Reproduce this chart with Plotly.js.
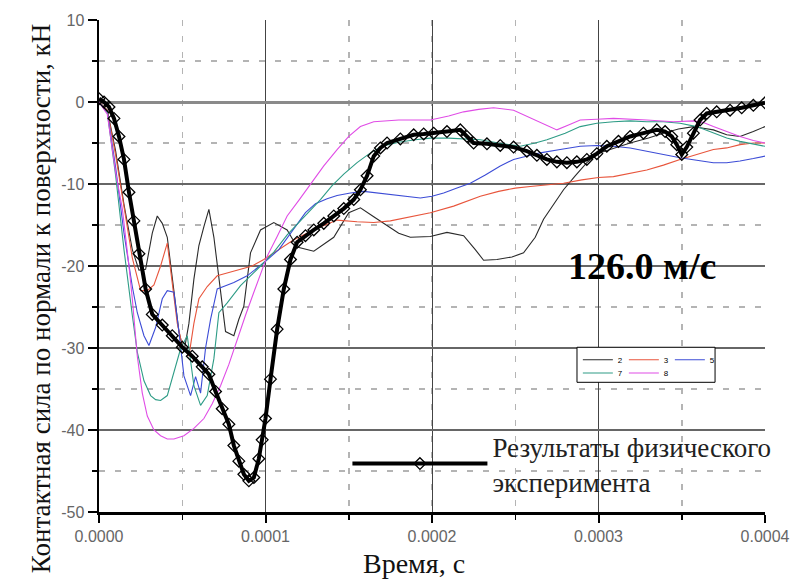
<!DOCTYPE html>
<html>
<head>
<meta charset="utf-8">
<script src="https://cdn.plot.ly/plotly-3.0.1.min.js"></script>
<style>html,body{margin:0;padding:0;background:#fff;}#chart{width:794px;height:579px;}</style>
</head>
<body>
<div id="chart"></div>
<script>
// ---- data (time in microseconds, force in kN) ----
const seriesNames = ['2', '3', '5', '7', '8'];
const seriesColors = ['#2a2a2a', '#e8553c', '#3c4cd6', '#2e9c86', '#e04ce6'];

const time2_us = [0,5,10,15,20,24,28,32,35,38,41,45,48,51,54,57,60,63,66,69,73,76,81,84,87,91,97,105,113,119,129,141,150,157,165,180,187,199,209,219,226,231,239,248,255,262,267,273,279,286,293,301,310,319,330,339,348,357,363,369,377,385,393,400];
const force2 = [0,-1,-6,-12.5,-18,-20.5,-20.4,-16,-13.9,-14.8,-16.5,-22.8,-28,-30.5,-27,-21.6,-17.5,-15.2,-13.1,-16.5,-23.2,-28,-28.5,-26.5,-24.9,-18.4,-15.6,-14.7,-15.6,-17.7,-18.2,-16.5,-13.5,-12.9,-14,-16,-16.5,-16.4,-15.9,-16.3,-18,-19.3,-19.2,-18.9,-18.4,-16.5,-14.3,-12.5,-10.7,-9,-7.4,-6.2,-5.6,-5,-4.4,-3.8,-3.3,-3,-3.2,-3.4,-4,-4.2,-3.6,-3];

const time3_us = [0,5,10,15,20,25,29,33,37,41,44,47,50,54,57,60,65,71,78,85,92,99,108,117,130,143,155,165,175,187,199,213,223,229,240,250,259,270,279,290,300,309,319,329,339,349,359,369,377,385,393,400];
const force3 = [0,-1,-6.5,-13,-19,-23,-23,-22.3,-20,-17.2,-22,-27,-29.7,-31,-27,-24,-22.5,-21.2,-20.8,-20.4,-20,-19.2,-18,-16.8,-15.5,-14.4,-14.6,-14.7,-14.5,-14,-13.5,-12.7,-11.9,-11.5,-10.9,-10.5,-10.3,-10.1,-9.9,-9.5,-9.2,-9.1,-8.7,-8.3,-7.7,-7,-6.4,-5.8,-5.6,-5.2,-5,-5];

const time5_us = [0,5,10,15,20,23,27,30,34,38,41,45,48,51,55,58,61,64,67,71,76,81,89,99,108,117,124,130,137,143,151,159,167,175,185,193,200,207,215,223,232,241,249,257,265,277,289,299,309,319,329,339,349,359,369,377,385,393,400];
const force5 = [0,-1.2,-8,-16,-22.5,-25.7,-28.5,-29.7,-27.5,-24,-23,-23.2,-28,-33.4,-35.8,-33.5,-35.5,-30,-26.5,-22.8,-22.4,-22,-21.2,-19.6,-18,-15.5,-13.5,-12.4,-11.8,-11.4,-11.1,-10.9,-11.1,-11.3,-11.5,-11.7,-11.5,-11.1,-10.5,-9.9,-8.9,-7.8,-7,-6.6,-6.2,-5.8,-5.4,-5.3,-5.4,-5.6,-6,-6.4,-6.8,-7.1,-7.4,-7.4,-7.2,-6.9,-6.6];

const time7_us = [0,5,10,15,20,23,27,31,34,37,41,45,49,53,57,61,65,69,72,77,85,97,105,113,123,133,140,147,155,163,170,180,190,199,210,220,229,240,253,262,269,280,289,299,309,319,329,339,349,359,369,377,385,393,400];
const force7 = [0,-1.3,-9,-18,-26,-30.5,-34,-35.8,-36.3,-36.4,-35.8,-33,-30.1,-28.5,-34.6,-37,-35.8,-31.3,-25.7,-24.5,-22.4,-20,-18.3,-16.2,-14,-11.9,-10.2,-8.8,-7.4,-6.2,-5.4,-4.9,-4.6,-4.4,-4.4,-4.5,-4.6,-5,-5.4,-5,-4.6,-3.8,-3,-2.6,-2.4,-2.3,-2.4,-2.4,-2.6,-3,-3.8,-4.4,-4.8,-5.1,-5.4];

const time8_us = [0,5,10,14,18,20,23,26,29,33,37,41,45,51,57,63,68,73,78,83,88,93,97,101,107,113,120,127,135,143,150,157,165,180,199,210,219,228,237,249,262,275,282,289,299,309,329,345,357,363,369,377,385,393,400];
const force8 = [0,-1.5,-8.6,-13,-20,-24,-31,-35.5,-38.3,-40,-40.7,-41.1,-41.1,-40.7,-39.8,-38.6,-36.8,-34.6,-32,-28.9,-26,-23.2,-21,-18.8,-16.4,-13.9,-12,-10,-7.8,-5.8,-4.2,-3,-2.4,-2.2,-2.2,-1.7,-1.2,-0.9,-0.7,-1,-2.2,-3.4,-2.8,-2.2,-2.1,-2,-2.2,-2.4,-2.3,-2.5,-3,-3.6,-4.2,-4.7,-5];

const timeExp_us = [0,3,6,9,12,15,18,21,24,28,32,38,44,50,56,62,66,70,74,78,81,84,87,90,93,96,98,100,103,107,111,115,119,124,129,135,141,147,153,157,161,165,169,173,181,189,195,201,209,217,221,225,233,241,249,257,263,269,275,281,287,293,299,305,312,319,327,335,340,344,347,350,353,357,361,365,371,379,386,393,400];
const forceExp = [0.4,0,-0.6,-2,-4.2,-7,-11,-14.5,-18.5,-22.8,-25.9,-27.2,-28.5,-29.9,-31,-32.3,-33.2,-35.3,-37.4,-39.3,-41.9,-43.8,-45.4,-46.2,-45.8,-43.5,-41.2,-38.6,-33.8,-27.7,-22.8,-19.2,-17.1,-16.3,-15.6,-14.8,-13.9,-13,-11.9,-10.7,-9,-6.6,-5.6,-5,-4.5,-4,-3.9,-3.8,-3.6,-3.4,-4.2,-5,-5.1,-5.3,-5.5,-6,-6.5,-7,-7.3,-7.4,-7.3,-7,-6.3,-5.4,-4.8,-4.2,-3.8,-3.4,-3.6,-4.2,-5.2,-6.4,-5.5,-3.8,-2.2,-1.4,-1.2,-1,-0.7,-0.4,-0.1];
const expName = 'Результаты физического<br>эксперимента';

const xTickVals = [0, 0.0001, 0.0002, 0.0003, 0.0004];
const xTickText = ['0.0000', '0.0001', '0.0002', '0.0003', '0.0004'];
const yTickVals = [10, 0, -10, -20, -30, -40, -50];
const yTickText = ['10', '0', '-10', '-20', '-30', '-40', '-50'];

const speedLabel = '126.0 м/с';
const xTitle = 'Время, с';
const yTitle = 'Контактная сила по нормали к поверхности, кН';

// ---- traces ----
const toSec = a => a.map(v => v * 1e-6);
const simTimes = [time2_us, time3_us, time5_us, time7_us, time8_us];
const simForces = [force2, force3, force5, force7, force8];
const traces = simTimes.map((tt, i) => ({
  type: 'scatter', mode: 'lines',
  x: toSec(tt), y: simForces[i],
  name: seriesNames[i],
  line: {color: seriesColors[i], width: 1.1},
  legend: i < 3 ? 'legend' : 'legend2'
}));
traces.push({
  type: 'scatter', mode: 'lines+markers',
  x: toSec(timeExp_us), y: forceExp,
  name: expName,
  line: {color: '#000', width: 4},
  marker: {symbol: 'diamond-open', size: 9, color: '#000', line: {width: 1.3, color: '#000'}},
  legend: 'legend3'
});

const tickFont = {family: 'Liberation Sans, Arial, sans-serif', size: 16, color: '#666'};
const serif = '"Liberation Serif", "Times New Roman", serif';

const layout = {
  width: 794, height: 579,
  margin: {l: 99, r: 29, t: 20, b: 67},
  paper_bgcolor: '#fff', plot_bgcolor: '#fff',
  showlegend: true,
  xaxis: {
    range: [0, 0.0004],
    tickvals: xTickVals, ticktext: xTickText,
    tickfont: tickFont,
    showline: true, linecolor: '#000', linewidth: 2.5,
    ticks: 'outside', ticklen: 8, tickwidth: 2, tickcolor: '#000',
    showgrid: true, gridcolor: '#444', gridwidth: 1,
    zeroline: false,
    minor: {dtick: 0.00005, tick0: 0, ticks: 'outside', ticklen: 5, tickwidth: 1.5, tickcolor: '#000',
            showgrid: true, gridcolor: '#b4b4b4', gridwidth: 1.5, griddash: '6px,10px'}
  },
  yaxis: {
    range: [-50, 10],
    tickvals: yTickVals, ticktext: yTickText,
    tickfont: tickFont,
    showline: true, linecolor: '#000', linewidth: 2.5,
    ticks: 'outside', ticklen: 9, tickwidth: 2, tickcolor: '#000',
    showgrid: true, gridcolor: '#666', gridwidth: 1.5,
    zeroline: true, zerolinecolor: '#8a8a8a', zerolinewidth: 3,
    minor: {dtick: 5, tick0: 0, ticks: 'outside', ticklen: 5, tickwidth: 1.5, tickcolor: '#000',
            showgrid: true, gridcolor: '#b4b4b4', gridwidth: 1.5, griddash: '6px,10px'}
  },
  legend: {x: 0.719, y: 0.339, xanchor: 'left', yanchor: 'top', orientation: 'h',
           font: {family: 'Liberation Sans, Arial, sans-serif', size: 8, color: '#000'},
           bgcolor: 'rgba(0,0,0,0)', borderwidth: 0, itemwidth: 30, entrywidth: 1},
  legend2: {x: 0.719, y: 0.312, xanchor: 'left', yanchor: 'top', orientation: 'h',
            font: {family: 'Liberation Sans, Arial, sans-serif', size: 8, color: '#000'},
            bgcolor: 'rgba(0,0,0,0)', borderwidth: 0, itemwidth: 30, entrywidth: 1},
  legend3: {x: 0.373, y: 0.183, xanchor: 'left', yanchor: 'top',
            font: {family: serif, size: 27, color: '#222'},
            bgcolor: 'rgba(0,0,0,0)', borderwidth: 0, itemwidth: 135, valign: 'middle'},
  shapes: [{type: 'rect', xref: 'paper', yref: 'paper', x0: 0.7177, x1: 0.925, y0: 0.2636, y1: 0.3348,
            fillcolor: '#fff', line: {color: '#000', width: 1}, layer: 'above'}],
  annotations: [
    {text: speedLabel, x: 0.000326, y: -20, xref: 'x', yref: 'y', showarrow: false,
     font: {family: serif, size: 38, color: '#000', weight: 'bold'}},
    {text: yTitle, xref: 'paper', yref: 'paper', x: -0.1126, y: 0.4325, textangle: -90,
     showarrow: false, font: {family: serif, size: 27, color: '#111'}},
    {text: xTitle, xref: 'paper', yref: 'paper', x: 0.473, y: -0.104, yanchor: 'middle',
     showarrow: false, font: {family: serif, size: 28, color: '#111'}}
  ]
};

Plotly.newPlot('chart', traces, layout, {displayModeBar: false, staticPlot: true});
</script>
</body>
</html>
